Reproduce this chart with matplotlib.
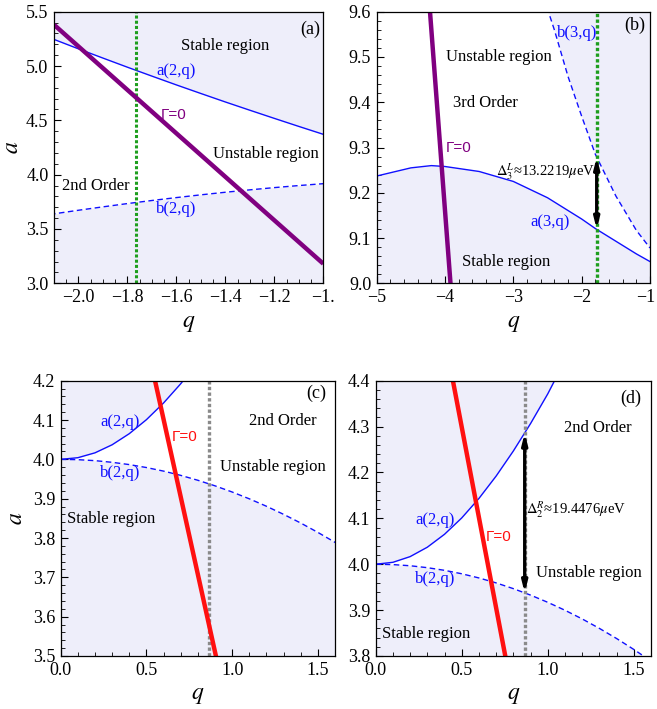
import numpy as np
import matplotlib
matplotlib.use('Agg')
import matplotlib.pyplot as plt
import matplotlib.transforms as mtransforms
from matplotlib.ticker import MultipleLocator, FormatStrFormatter

plt.rcParams['font.family'] = ['Liberation Serif', 'DejaVu Serif']
plt.rcParams['mathtext.fontset'] = 'stix'

# ---- data ----
q_abs = [0.0, 0.1, 0.2, 0.3, 0.4, 0.5, 0.6, 0.7, 0.8, 0.9, 1.0, 1.1,
         1.2, 1.3, 1.4, 1.5, 1.6, 1.7, 1.8, 1.9, 2.0, 2.1]
a2_vals = [4.0, 4.0042, 4.0166, 4.0371, 4.0653, 4.1009, 4.1434, 4.1922,
           4.2468, 4.3066, 4.3713, 4.444, 4.518, 4.593, 4.669, 4.747,
           4.826, 4.907, 4.989, 5.073, 5.158, 5.245]
b2_vals = [4.0, 3.9992, 3.9967, 3.9925, 3.9867, 3.9792, 3.9701, 3.9593,
           3.9468, 3.9327, 3.9170, 3.8997, 3.8808, 3.8602, 3.8381, 3.8143,
           3.7890, 3.7622, 3.7338, 3.7037, 3.6724, 3.6395]

q3_a = [-5.0, -4.5, -4.2, -4.0, -3.5, -3.0, -2.5, -2.0, -1.8, -1.5, -1.2, -1.0]
a3_vals = [9.237, 9.255, 9.260, 9.258, 9.247, 9.225, 9.189, 9.142, 9.121,
           9.093, 9.065, 9.048]
q3_b = [-2.6, -2.5, -2.4, -2.2, -2.0, -1.8, -1.5, -1.2, -1.0]
b3_vals = [9.655, 9.606, 9.560, 9.457, 9.369, 9.285, 9.193, 9.117, 9.078]

gamma_a_q = [-2.1, -1.0]
gamma_a_a = [5.38, 3.18]
gamma_b_q = [-4.22, -3.92]
gamma_b_a = [9.6, 9.0]
gamma_cd_q = [0.40, 0.95]
gamma_cd_a = [4.496, 3.412]

q_line_a = -1.765
q_line_b = -1.78
q_line_cd = 0.866

FILL = '#EEEEFA'
BLUE = '#1010FF'
PURPLE = '#800080'
RED = '#FF1010'
GREEN = '#1E9E1E'
GREY = '#8A8A8A'

W, H = 657, 709
fig = plt.figure(figsize=(W / 100, H / 100), dpi=100)


def make_ax(l, r, t, b):
    ax = fig.add_axes([l / W, 1 - b / H, (r - l) / W, (b - t) / H])
    ax.tick_params(which='both', direction='in', top=False, right=False,
                   labelsize=13, pad=4)
    ax.tick_params(which='major', length=5, width=0.8)
    ax.tick_params(which='minor', length=2.8, width=0.6)
    for s in ax.spines.values():
        s.set_linewidth(0.9)
    return ax


tk = dict(fontsize=12, ha='center', va='center')
blue_tk = dict(fontsize=12, ha='center', va='center', color=BLUE)
gam_tk = dict(fontsize=11, ha='center', va='center',
              family=['Liberation Sans', 'DejaVu Sans'])
dash = (0, (4, 2.5))
dotted = (0, (1.0, 0.7))

# ---------------- (a) ----------------
ax = make_ax(54, 323.3, 11.7, 283.3)
qa = -np.array(q_abs)
a2 = np.array(a2_vals)
b2 = np.array(b2_vals)
ax.fill_between(qa, a2, 5.5, color=FILL, lw=0)
ax.fill_between(qa, 3.0, b2, color=FILL, lw=0)
ax.plot(qa, a2, color=BLUE, lw=1.0)
ax.plot(qa, b2, color=BLUE, lw=1.0, ls=dash)
ax.axvline(q_line_a, color=GREEN, lw=2.2, ls=dotted)
ax.plot(gamma_a_q, gamma_a_a, color=PURPLE, lw=3.2, solid_capstyle='butt')
ax.set_xlim(-2.1, -1.0)
ax.set_ylim(3.0, 5.5)
ax.xaxis.set_major_locator(MultipleLocator(0.2))
ax.xaxis.set_minor_locator(MultipleLocator(0.05))
ax.yaxis.set_major_locator(MultipleLocator(0.5))
ax.yaxis.set_minor_locator(MultipleLocator(0.1))
ax.xaxis.set_major_formatter(matplotlib.ticker.FuncFormatter(
    lambda v, p: '\u22121.' if abs(v + 1) < 1e-9 else ('%.1f' % v).replace('-', '\u2212')))
ax.yaxis.set_major_formatter(FormatStrFormatter('%.1f'))
ax.set_xlabel('$q$', fontsize=17, labelpad=5)
ax.set_ylabel('$a$', fontsize=17, labelpad=2)
ax.text(-1.40, 5.18, 'Stable region', **tk)
ax.text(-1.603, 4.95, 'a(2,q)', **blue_tk)
ax.text(-1.613, 4.55, '\u0393=0', color=PURPLE, **gam_tk)
ax.text(-1.235, 4.19, 'Unstable region', **tk)
ax.text(-1.93, 3.895, '2nd Order', **tk)
ax.text(-1.603, 3.68, 'b(2,q)', **blue_tk)
ax.text(-1.053, 5.34, '(a)', fontsize=13, ha='center', va='center')

# ---------------- (b) ----------------
ax = make_ax(376.7, 650, 11.7, 283.3)
ax.fill_between(q3_a, 9.0, a3_vals, color=FILL, lw=0)
ax.fill_between(q3_b, b3_vals, 9.6, color=FILL, lw=0)
ax.plot(q3_a, a3_vals, color=BLUE, lw=1.0)
ax.plot(q3_b, b3_vals, color=BLUE, lw=1.0, ls=dash)
ax.axvline(q_line_b, color=GREEN, lw=2.4, ls=dotted)
ax.plot(gamma_b_q, gamma_b_a, color=PURPLE, lw=3.2, solid_capstyle='butt')
y_lo = np.interp(q_line_b, q3_a, a3_vals)
y_hi = np.interp(q_line_b, q3_b, b3_vals)
ax.annotate('', xy=(q_line_b, y_hi), xytext=(q_line_b, y_lo),
            arrowprops=dict(arrowstyle='<|-|>,head_length=0.6,head_width=0.15',
                            lw=2.4, color='black', shrinkA=0, shrinkB=0))
ax.set_xlim(-5, -1)
ax.set_ylim(9.0, 9.6)
ax.xaxis.set_major_locator(MultipleLocator(1))
ax.xaxis.set_minor_locator(MultipleLocator(0.2))
ax.yaxis.set_major_locator(MultipleLocator(0.1))
ax.yaxis.set_minor_locator(MultipleLocator(0.02))
ax.xaxis.set_major_formatter(matplotlib.ticker.FuncFormatter(
    lambda v, p: ('%d' % round(v)).replace('-', '\u2212')))
ax.yaxis.set_major_formatter(FormatStrFormatter('%.1f'))
ax.set_xlabel('$q$', fontsize=17, labelpad=5)
fig.canvas.draw()
shift = mtransforms.ScaledTranslation(-4 / 100, 0, fig.dpi_scale_trans)
for lab in ax.get_xticklabels():
    if lab.get_text() == '\u22121':
        lab.set_transform(lab.get_transform() + shift)
ax.text(-3.206, 9.499, 'Unstable region', **tk)
ax.text(-3.415, 9.398, '3rd Order', **tk)
ax.text(-3.80, 9.298, '\u0393=0', color=PURPLE, **gam_tk)
ax.text(-1.80, 9.247, r'$\Delta_3^L$≈13.2219$\mu$eV', fontsize=10.5,
        ha='right', va='center')
ax.text(-2.464, 9.136, 'a(3,q)', **blue_tk)
ax.text(-2.073, 9.552, 'b(3,q)', **blue_tk)
ax.text(-3.11, 9.048, 'Stable region', **tk)
ax.text(-1.22, 9.57, '(b)', fontsize=13, ha='center', va='center')

# ---------------- (c) ----------------
qp = np.array(q_abs)
ax = make_ax(60.7, 335, 380.7, 656)
ax.fill_between(qp, a2, 4.2, color=FILL, lw=0)
ax.fill_between(qp, 3.5, b2, color=FILL, lw=0)
ax.plot(qp, a2, color=BLUE, lw=1.0)
ax.plot(qp, b2, color=BLUE, lw=1.0, ls=dash)
ax.axvline(q_line_cd, color=GREY, lw=2.4, ls=dotted)
ax.plot(gamma_cd_q, gamma_cd_a, color=RED, lw=3.2, solid_capstyle='butt')
ax.set_xlim(0, 1.6)
ax.set_ylim(3.5, 4.2)
ax.xaxis.set_major_locator(MultipleLocator(0.5))
ax.xaxis.set_minor_locator(MultipleLocator(0.1))
ax.yaxis.set_major_locator(MultipleLocator(0.1))
ax.yaxis.set_minor_locator(MultipleLocator(0.02))
ax.xaxis.set_major_formatter(FormatStrFormatter('%.1f'))
ax.yaxis.set_major_formatter(FormatStrFormatter('%.1f'))
ax.set_xlabel('$q$', fontsize=17, labelpad=5)
ax.set_ylabel('$a$', fontsize=17, labelpad=4)
ax.text(0.346, 4.096, 'a(2,q)', **blue_tk)
ax.text(0.721, 4.058, '\u0393=0', color=RED, **gam_tk)
ax.text(1.298, 4.098, '2nd Order', **tk)
ax.text(1.24, 3.98, 'Unstable region', **tk)
ax.text(0.346, 3.965, 'b(2,q)', **blue_tk)
ax.text(0.297, 3.848, 'Stable region', **tk)
ax.text(1.49, 4.168, '(c)', fontsize=13, ha='center', va='center')

# ---------------- (d) ----------------
ax = make_ax(375.7, 651, 380.7, 656)
ax.fill_between(qp, a2, 4.4, color=FILL, lw=0)
ax.fill_between(qp, 3.8, b2, color=FILL, lw=0)
ax.plot(qp, a2, color=BLUE, lw=1.0)
ax.plot(qp, b2, color=BLUE, lw=1.0, ls=dash)
ax.axvline(q_line_cd, color=GREY, lw=2.4, ls=dotted)
ax.plot(gamma_cd_q, gamma_cd_a, color=RED, lw=3.2, solid_capstyle='butt')
y_lo = np.interp(q_line_cd, qp, b2)
y_hi = np.interp(q_line_cd, qp, a2)
ax.annotate('', xy=(q_line_cd, y_hi), xytext=(q_line_cd, y_lo),
            arrowprops=dict(arrowstyle='<|-|>,head_length=0.6,head_width=0.15',
                            lw=2.4, color='black', shrinkA=0, shrinkB=0))
ax.set_xlim(0, 1.6)
ax.set_ylim(3.8, 4.4)
ax.xaxis.set_major_locator(MultipleLocator(0.5))
ax.xaxis.set_minor_locator(MultipleLocator(0.1))
ax.yaxis.set_major_locator(MultipleLocator(0.1))
ax.yaxis.set_minor_locator(MultipleLocator(0.02))
ax.xaxis.set_major_formatter(FormatStrFormatter('%.1f'))
ax.yaxis.set_major_formatter(FormatStrFormatter('%.1f'))
ax.set_xlabel('$q$', fontsize=17, labelpad=5)
ax.text(1.288, 4.298, '2nd Order', **tk)
ax.text(0.875, 4.118, r'$\Delta_2^R$≈19.4476$\mu$eV', fontsize=10.5,
        ha='left', va='center')
ax.text(0.343, 4.096, 'a(2,q)', **blue_tk)
ax.text(0.715, 4.059, '\u0393=0', color=RED, **gam_tk)
ax.text(1.24, 3.98, 'Unstable region', **tk)
ax.text(0.343, 3.967, 'b(2,q)', **blue_tk)
ax.text(0.295, 3.848, 'Stable region', **tk)
ax.text(1.48, 4.362, '(d)', fontsize=13, ha='center', va='center')

fig.savefig('out.png', dpi=100)
